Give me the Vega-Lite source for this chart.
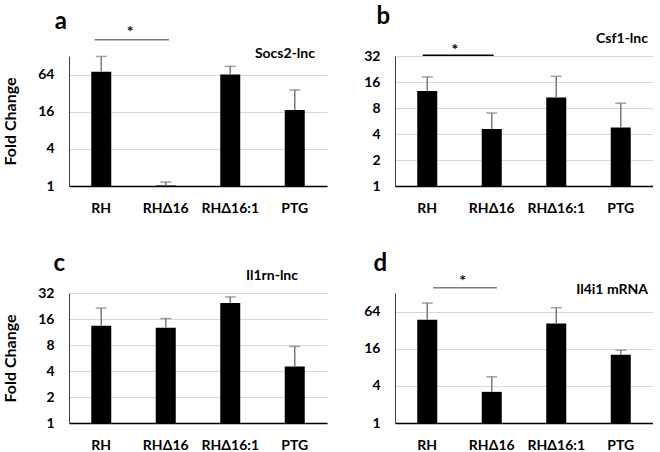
{
  "$schema": "https://vega.github.io/schema/vega-lite/v6.json",
  "padding": {"left": 2, "top": 4, "right": 0, "bottom": 0},
  "background": "white",
  "datasets": {
    "bars": [
      {"panel": "a", "cond": "RH", "value": 71, "err": 126},
      {"panel": "a", "cond": "RHΔ16", "value": 1.02, "err": 1.16},
      {"panel": "a", "cond": "RHΔ16:1", "value": 64, "err": 87},
      {"panel": "a", "cond": "PTG", "value": 17, "err": 36},
      {"panel": "b", "cond": "RH", "value": 12.6, "err": 18.3},
      {"panel": "b", "cond": "RHΔ16", "value": 4.57, "err": 7.0},
      {"panel": "b", "cond": "RHΔ16:1", "value": 10.6, "err": 18.6},
      {"panel": "b", "cond": "PTG", "value": 4.75, "err": 9.1},
      {"panel": "c", "cond": "RH", "value": 13.4, "err": 21.4},
      {"panel": "c", "cond": "RHΔ16", "value": 12.7, "err": 16.2},
      {"panel": "c", "cond": "RHΔ16:1", "value": 24.5, "err": 28.8},
      {"panel": "c", "cond": "PTG", "value": 4.5, "err": 7.7},
      {"panel": "d", "cond": "RH", "value": 47, "err": 88},
      {"panel": "d", "cond": "RHΔ16", "value": 3.2, "err": 5.6},
      {"panel": "d", "cond": "RHΔ16:1", "value": 41, "err": 74},
      {"panel": "d", "cond": "PTG", "value": 12.8, "err": 15.1}
    ]
  },
  "columns": 2,
  "spacing": {"row": 107, "column": 68},
  "bounds": "flush",
  "concat": [
    {
      "width": 258, "height": 130,
      "encoding": {
        "x": {"field": "cond", "type": "nominal", "scale": {"domain": ["RH", "RHΔ16", "RHΔ16:1", "PTG"], "paddingInner": 0, "paddingOuter": 0},
              "axis": {"title": null, "labelAngle": 0, "ticks": false, "tickSize": 0, "labelPadding": 15, "domainColor": "#000", "domainWidth": 1.5}}
      },
      "layer": [
        {
          "data": {"name": "bars"},
          "transform": [{"filter": "datum.panel === 'a'"}],
          "mark": {"type": "bar", "color": "#000", "size": 20},
          "encoding": {
            "y": {"field": "value", "type": "quantitative", "scale": {"type": "log", "base": 4, "domain": [1, 128], "nice": false},
                  "axis": {"title": "Fold Change", "values": [1, 4, 16, 64], "labelExpr": "format(datum.value, 'd')", "grid": true, "gridColor": "#d9d9d9", "ticks": false, "tickSize": 0, "labelPadding": 15, "titlePadding": 19, "domainColor": "#404040"}},
            "y2": {"datum": 1}
          }
        },
        {
          "data": {"name": "bars"},
          "transform": [{"filter": "datum.panel === 'a'"}],
          "mark": {"type": "rule", "color": "#7a7a7a", "strokeWidth": 1.5},
          "encoding": {"y": {"field": "value", "type": "quantitative"}, "y2": {"field": "err"}}
        },
        {
          "data": {"name": "bars"},
          "transform": [{"filter": "datum.panel === 'a'"}],
          "mark": {"type": "tick", "color": "#7a7a7a", "size": 11, "thickness": 1.5},
          "encoding": {"y": {"field": "err", "type": "quantitative"}}
        },
        {
          "data": {"values": [{"c1": "RH", "c2": "RHΔ16", "y": 235}]},
          "mark": {"type": "rule", "color": "#7a7a7a", "strokeWidth": 1.5},
          "encoding": {"x": {"field": "c1", "type": "nominal", "bandPosition": 0.4}, "x2": {"field": "c2", "bandPosition": 0.55}, "y": {"field": "y", "type": "quantitative"}}
        },
        {
          "data": {"values": [{"cond": "RH", "y": 262, "label": "*"}]},
          "mark": {"type": "text", "fontSize": 16, "fontWeight": "bold", "baseline": "alphabetic", "align": "center", "color": "#000"},
          "encoding": {"x": {"field": "cond", "type": "nominal", "bandPosition": 0.95}, "y": {"field": "y", "type": "quantitative"}, "text": {"field": "label"}}
        },
        {
          "data": {"values": [{"cond": "RH", "y": 350, "label": "a"}]},
          "mark": {"type": "text", "fontSize": 24, "fontWeight": "bold", "baseline": "alphabetic", "align": "right", "dx": -2, "color": "#000"},
          "encoding": {"x": {"field": "cond", "type": "nominal", "bandPosition": 0}, "y": {"field": "y", "type": "quantitative"}, "text": {"field": "label"}}
        },
        {
          "data": {"values": [{"cond": "PTG", "y": 140, "label": "Socs2-lnc"}]},
          "mark": {"type": "text", "fontSize": 14, "fontWeight": "bold", "baseline": "middle", "align": "right", "dx": -12, "color": "#000"},
          "encoding": {"x": {"field": "cond", "type": "nominal", "bandPosition": 1}, "y": {"field": "y", "type": "quantitative"}, "text": {"field": "label"}}
        }
      ]
    },
    {
      "width": 258, "height": 130,
      "encoding": {
        "x": {"field": "cond", "type": "nominal", "scale": {"domain": ["RH", "RHΔ16", "RHΔ16:1", "PTG"], "paddingInner": 0, "paddingOuter": 0},
              "axis": {"title": null, "labelAngle": 0, "ticks": false, "tickSize": 0, "labelPadding": 15, "domainColor": "#000", "domainWidth": 1.5}}
      },
      "layer": [
        {
          "data": {"name": "bars"},
          "transform": [{"filter": "datum.panel === 'b'"}],
          "mark": {"type": "bar", "color": "#000", "size": 20},
          "encoding": {
            "y": {"field": "value", "type": "quantitative", "scale": {"type": "log", "base": 2, "domain": [1, 32], "nice": false},
                  "axis": {"title": null, "values": [1, 2, 4, 8, 16, 32], "labelExpr": "format(datum.value, 'd')", "grid": true, "gridColor": "#d9d9d9", "ticks": false, "tickSize": 0, "labelPadding": 15, "domainColor": "#404040"}},
            "y2": {"datum": 1}
          }
        },
        {
          "data": {"name": "bars"},
          "transform": [{"filter": "datum.panel === 'b'"}],
          "mark": {"type": "rule", "color": "#7a7a7a", "strokeWidth": 1.5},
          "encoding": {"y": {"field": "value", "type": "quantitative"}, "y2": {"field": "err"}}
        },
        {
          "data": {"name": "bars"},
          "transform": [{"filter": "datum.panel === 'b'"}],
          "mark": {"type": "tick", "color": "#7a7a7a", "size": 11, "thickness": 1.5},
          "encoding": {"y": {"field": "err", "type": "quantitative"}}
        },
        {
          "data": {"values": [{"c1": "RH", "c2": "RHΔ16", "y": 32.6}]},
          "mark": {"type": "rule", "color": "#000", "strokeWidth": 1.5},
          "encoding": {"x": {"field": "c1", "type": "nominal", "bandPosition": 0.43}, "x2": {"field": "c2", "bandPosition": 0.53}, "y": {"field": "y", "type": "quantitative"}}
        },
        {
          "data": {"values": [{"cond": "RH", "y": 32.6, "label": "*"}]},
          "mark": {"type": "text", "fontSize": 16, "fontWeight": "bold", "baseline": "alphabetic", "align": "center", "color": "#000"},
          "encoding": {"x": {"field": "cond", "type": "nominal", "bandPosition": 0.93}, "y": {"field": "y", "type": "quantitative"}, "text": {"field": "label"}}
        },
        {
          "data": {"values": [{"cond": "RH", "y": 76, "label": "b"}]},
          "mark": {"type": "text", "fontSize": 24, "fontWeight": "bold", "baseline": "alphabetic", "align": "right", "dx": -5, "color": "#000"},
          "encoding": {"x": {"field": "cond", "type": "nominal", "bandPosition": 0}, "y": {"field": "y", "type": "quantitative"}, "text": {"field": "label"}}
        },
        {
          "data": {"values": [{"cond": "PTG", "y": 50, "label": "Csf1-lnc"}]},
          "mark": {"type": "text", "fontSize": 14, "fontWeight": "bold", "baseline": "middle", "align": "right", "dx": -5, "color": "#000"},
          "encoding": {"x": {"field": "cond", "type": "nominal", "bandPosition": 1}, "y": {"field": "y", "type": "quantitative"}, "text": {"field": "label"}}
        }
      ]
    },
    {
      "width": 258, "height": 130,
      "encoding": {
        "x": {"field": "cond", "type": "nominal", "scale": {"domain": ["RH", "RHΔ16", "RHΔ16:1", "PTG"], "paddingInner": 0, "paddingOuter": 0},
              "axis": {"title": null, "labelAngle": 0, "ticks": false, "tickSize": 0, "labelPadding": 15, "domainColor": "#000", "domainWidth": 1.5}}
      },
      "layer": [
        {
          "data": {"name": "bars"},
          "transform": [{"filter": "datum.panel === 'c'"}],
          "mark": {"type": "bar", "color": "#000", "size": 20},
          "encoding": {
            "y": {"field": "value", "type": "quantitative", "scale": {"type": "log", "base": 2, "domain": [1, 32], "nice": false},
                  "axis": {"title": "Fold Change", "values": [1, 2, 4, 8, 16, 32], "labelExpr": "format(datum.value, 'd')", "grid": true, "gridColor": "#d9d9d9", "ticks": false, "tickSize": 0, "labelPadding": 15, "titlePadding": 19, "domainColor": "#404040"}},
            "y2": {"datum": 1}
          }
        },
        {
          "data": {"name": "bars"},
          "transform": [{"filter": "datum.panel === 'c'"}],
          "mark": {"type": "rule", "color": "#7a7a7a", "strokeWidth": 1.5},
          "encoding": {"y": {"field": "value", "type": "quantitative"}, "y2": {"field": "err"}}
        },
        {
          "data": {"name": "bars"},
          "transform": [{"filter": "datum.panel === 'c'"}],
          "mark": {"type": "tick", "color": "#7a7a7a", "size": 11, "thickness": 1.5},
          "encoding": {"y": {"field": "err", "type": "quantitative"}}
        },
        {
          "data": {"values": [{"cond": "RH", "y": 57, "label": "c"}]},
          "mark": {"type": "text", "fontSize": 24, "fontWeight": "bold", "baseline": "alphabetic", "align": "right", "dx": -4, "color": "#000"},
          "encoding": {"x": {"field": "cond", "type": "nominal", "bandPosition": 0}, "y": {"field": "y", "type": "quantitative"}, "text": {"field": "label"}}
        },
        {
          "data": {"values": [{"cond": "PTG", "y": 50, "label": "Il1rn-lnc"}]},
          "mark": {"type": "text", "fontSize": 14, "fontWeight": "bold", "baseline": "middle", "align": "right", "dx": -29, "color": "#000"},
          "encoding": {"x": {"field": "cond", "type": "nominal", "bandPosition": 1}, "y": {"field": "y", "type": "quantitative"}, "text": {"field": "label"}}
        }
      ]
    },
    {
      "width": 258, "height": 130,
      "encoding": {
        "x": {"field": "cond", "type": "nominal", "scale": {"domain": ["RH", "RHΔ16", "RHΔ16:1", "PTG"], "paddingInner": 0, "paddingOuter": 0},
              "axis": {"title": null, "labelAngle": 0, "ticks": false, "tickSize": 0, "labelPadding": 15, "domainColor": "#000", "domainWidth": 1.5}}
      },
      "layer": [
        {
          "data": {"name": "bars"},
          "transform": [{"filter": "datum.panel === 'd'"}],
          "mark": {"type": "bar", "color": "#000", "size": 20},
          "encoding": {
            "y": {"field": "value", "type": "quantitative", "scale": {"type": "log", "base": 4, "domain": [1, 128], "nice": false},
                  "axis": {"title": null, "values": [1, 4, 16, 64], "labelExpr": "format(datum.value, 'd')", "grid": true, "gridColor": "#d9d9d9", "ticks": false, "tickSize": 0, "labelPadding": 15, "domainColor": "#404040"}},
            "y2": {"datum": 1}
          }
        },
        {
          "data": {"name": "bars"},
          "transform": [{"filter": "datum.panel === 'd'"}],
          "mark": {"type": "rule", "color": "#7a7a7a", "strokeWidth": 1.5},
          "encoding": {"y": {"field": "value", "type": "quantitative"}, "y2": {"field": "err"}}
        },
        {
          "data": {"name": "bars"},
          "transform": [{"filter": "datum.panel === 'd'"}],
          "mark": {"type": "tick", "color": "#7a7a7a", "size": 11, "thickness": 1.5},
          "encoding": {"y": {"field": "err", "type": "quantitative"}}
        },
        {
          "data": {"values": [{"c1": "RH", "c2": "RHΔ16", "y": 155}]},
          "mark": {"type": "rule", "color": "#7a7a7a", "strokeWidth": 1.5},
          "encoding": {"x": {"field": "c1", "type": "nominal", "bandPosition": 0.59}, "x2": {"field": "c2", "bandPosition": 0.58}, "y": {"field": "y", "type": "quantitative"}}
        },
        {
          "data": {"values": [{"cond": "RH", "y": 166, "label": "*"}]},
          "mark": {"type": "text", "fontSize": 16, "fontWeight": "bold", "baseline": "alphabetic", "align": "center", "color": "#000"},
          "encoding": {"x": {"field": "cond", "type": "nominal", "bandPosition": 1.05}, "y": {"field": "y", "type": "quantitative"}, "text": {"field": "label"}}
        },
        {
          "data": {"values": [{"cond": "RH", "y": 295, "label": "d"}]},
          "mark": {"type": "text", "fontSize": 24, "fontWeight": "bold", "baseline": "alphabetic", "align": "right", "dx": -8, "color": "#000"},
          "encoding": {"x": {"field": "cond", "type": "nominal", "bandPosition": 0}, "y": {"field": "y", "type": "quantitative"}, "text": {"field": "label"}}
        },
        {
          "data": {"values": [{"cond": "PTG", "y": 142, "label": "Il4i1 mRNA"}]},
          "mark": {"type": "text", "fontSize": 14, "fontWeight": "bold", "baseline": "middle", "align": "right", "dx": -5, "color": "#000"},
          "encoding": {"x": {"field": "cond", "type": "nominal", "bandPosition": 1}, "y": {"field": "y", "type": "quantitative"}, "text": {"field": "label"}}
        }
      ]
    }
  ],
  "config": {
    "view": {"stroke": null},
    "font": "Lato",
    "text": {"font": "Lato"},
    "axis": {"labelFont": "Lato", "labelFontWeight": "bold", "labelFontSize": 14, "labelColor": "#000", "titleFont": "Lato", "titleFontWeight": "bold", "titleFontSize": 16, "titleColor": "#000"}
  }
}
